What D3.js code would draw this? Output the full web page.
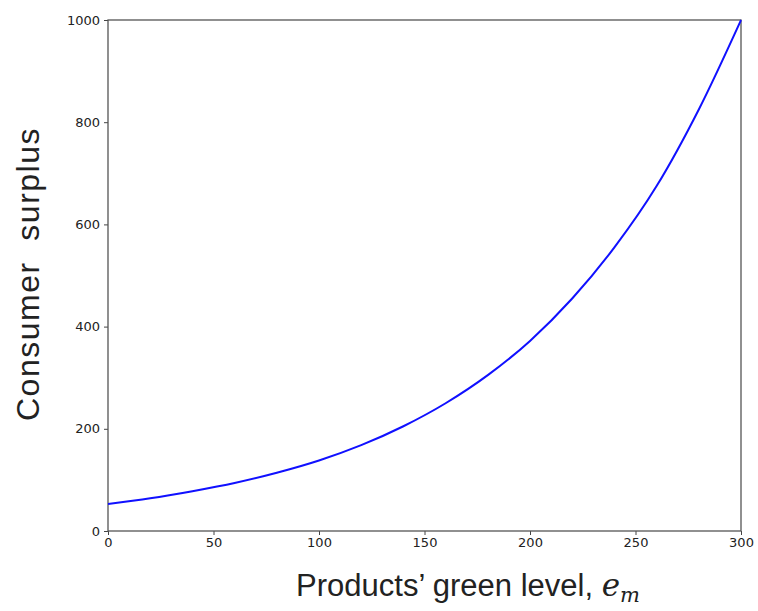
<!DOCTYPE html>
<html>
<head>
<meta charset="utf-8">
<script src="https://cdn.jsdelivr.net/npm/d3@7"></script>
<style>
  body { margin: 0; background: #fff; }
  svg text { fill: #222; }
</style>
</head>
<body>
<div id="chart"></div>
<script>
// green level (x) and consumer surplus (y)
const greenLevel = [0, 20, 40, 60, 80, 100, 120, 140, 160, 180, 200, 220, 240, 260, 280, 300];
const surplus = [53, 64, 78, 94, 114, 138, 168, 205, 250, 305, 372, 455, 555, 675, 825, 1000];
const xTicks = [0, 50, 100, 150, 200, 250, 300];
const yTicks = [0, 200, 400, 600, 800, 1000];

const W = 758, H = 611;
const margin = { top: 20, right: 17, bottom: 80, left: 108 };
const width = W - margin.left - margin.right;
const height = H - margin.top - margin.bottom;

const svg = d3.select("#chart").append("svg")
    .attr("width", W)
    .attr("height", H);

const g = svg.append("g")
    .attr("transform", `translate(${margin.left},${margin.top})`);

const x = d3.scaleLinear().domain([0, 300]).range([0, width]);
const y = d3.scaleLinear().domain([0, 1000]).range([height, 0]);

// axes
const xAxis = g.append("g")
    .attr("transform", `translate(0,${height})`)
    .call(d3.axisBottom(x).tickValues(xTicks).tickFormat(d3.format("d")).tickSize(4).tickPadding(3));
const yAxis = g.append("g")
    .call(d3.axisLeft(y).tickValues(yTicks).tickFormat(d3.format("d")).tickSize(4).tickPadding(4));

[xAxis, yAxis].forEach(a => {
    a.select(".domain").remove();
    a.selectAll("line").attr("stroke", "#444");
    a.selectAll("text")
        .style("font-family", "DejaVu Sans")
        .style("font-size", "13px")
        .attr("fill", "#333");
});

// frame
g.append("rect")
    .attr("width", width)
    .attr("height", height)
    .attr("fill", "none")
    .attr("stroke", "#555")
    .attr("stroke-width", 1.3);

// curve
const pts = greenLevel.map((v, i) => [v, surplus[i]]);
const line = d3.line()
    .x(d => x(d[0]))
    .y(d => y(d[1]))
    .curve(d3.curveMonotoneX);

g.append("path")
    .datum(pts)
    .attr("d", line)
    .attr("fill", "none")
    .attr("stroke", "#1010ff")
    .attr("stroke-width", 2);

// axis labels
const xl = svg.append("text")
    .attr("x", 468)
    .attr("y", 596)
    .attr("text-anchor", "middle")
    .style("font-family", "Liberation Sans, Arial, sans-serif")
    .style("font-size", "31px");
xl.append("tspan").text("Products\u2019 green level, ");
xl.append("tspan")
    .style("font-family", "DejaVu Serif, serif")
    .style("font-style", "italic")
    .text("e");
xl.append("tspan")
    .attr("dy", 6)
    .style("font-family", "DejaVu Serif, serif")
    .style("font-style", "italic")
    .style("font-size", "21px")
    .text("m");

svg.append("text")
    .attr("transform", `translate(39,274) rotate(-90)`)
    .attr("text-anchor", "middle")
    .style("font-family", "Liberation Sans, Arial, sans-serif")
    .style("font-size", "32px")
    .style("letter-spacing", "1.5px")
    .style("white-space", "pre")
    .text("Consumer  surplus");
</script>
</body>
</html>
